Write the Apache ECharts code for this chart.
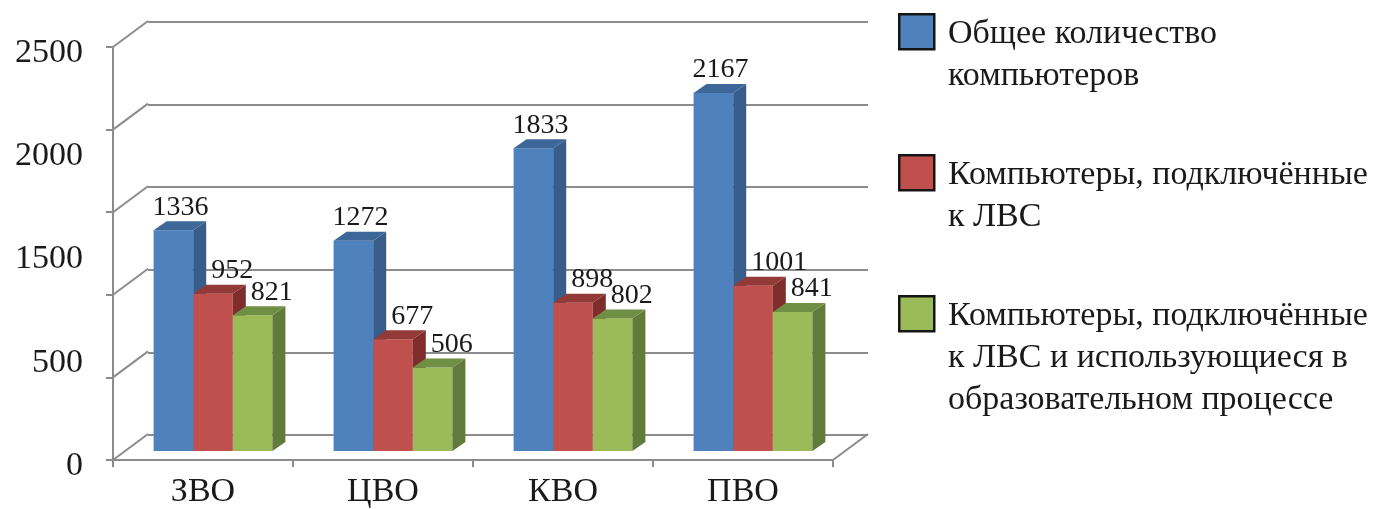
<!DOCTYPE html>
<html><head><meta charset="utf-8">
<script src="https://cdn.jsdelivr.net/npm/echarts@6/dist/echarts.min.js"></script>
<style>html,body{margin:0;padding:0;background:#fff}#c{width:1382px;height:509px}</style>
</head><body><div id="c"></div>
<script>
// ---- data ----
var categories = ['ЗВО', 'ЦВО', 'КВО', 'ПВО'];
var seriesNames = [
  'Общее количество\nкомпьютеров',
  'Компьютеры, подключённые\nк ЛВС',
  'Компьютеры, подключённые\nк ЛВС и использующиеся в\nобразовательном процессе'
];
var totalComputers = [1336, 1272, 1833, 2167];
var lanComputers = [952, 677, 898, 1001];
var eduComputers = [821, 506, 802, 841];
var yTickLabels = ['0', '500', '1500', '2000', '2500'];
var yMax = 2500;
var yStep = 500;

// ---- styles ----
var FONT = '"Liberation Serif", "Times New Roman", serif';
var faceColors = [
  { front: '#4F81BD', side: '#385D8A', top: '#3D6699' },
  { front: '#C0504D', side: '#7E2D2B', top: '#933A38' },
  { front: '#9BBB59', side: '#617B3A', top: '#6F8F44' }
];
var labelStyle = [
  { dx: 0.5, dxExtra: 7, align: 'center' },
  { dx: 0, dxExtra: 18, align: 'left' },
  { dx: 0, dxExtra: 18, align: 'left' }
];
var DX = 35, DY = -26;           // wall depth
var BAR_DX = 10, BAR_DY = -9;    // bar placement depth
var BAR_DEPTH_X = 13, BAR_DEPTH_Y = -9;
var BAR_FRAC = 0.22;
var GRID_COLOR = '#8C8C8C';

var allValues = [totalComputers, lanComputers, eduComputers];

var chart = echarts.init(document.getElementById('c'), null, { renderer: 'canvas' });

function makeBarRender(s) {
  return function (params, api) {
    var i = api.value(0), v = api.value(1);
    var base = api.coord([i, 0]);
    var topP = api.coord([i, v]);
    var band = api.size([1, 0])[0];
    var bw = band * BAR_FRAC;
    var x = base[0] - 1.5 * bw + s * bw + BAR_DX;
    var yb = base[1] + BAR_DY;
    var yt = topP[1] + BAR_DY;
    var c = faceColors[s];
    var ls = labelStyle[s];
    var lx = x + bw * ls.dx + ls.dxExtra;
    return {
      type: 'group',
      children: [
        { type: 'rect', shape: { x: x, y: yt, width: bw, height: yb - yt }, style: { fill: c.front } },
        { type: 'polygon', shape: { points: [[x + bw, yb], [x + bw + BAR_DEPTH_X, yb + BAR_DEPTH_Y], [x + bw + BAR_DEPTH_X, yt + BAR_DEPTH_Y], [x + bw, yt]] }, style: { fill: c.side } },
        { type: 'polygon', shape: { points: [[x, yt], [x + BAR_DEPTH_X, yt + BAR_DEPTH_Y], [x + bw + BAR_DEPTH_X, yt + BAR_DEPTH_Y], [x + bw, yt]] }, style: { fill: c.top } },
        { type: 'text', z2: 100, style: { text: String(v), x: lx, y: yt + BAR_DEPTH_Y, align: ls.align, verticalAlign: 'bottom', font: '28px ' + FONT, fill: '#1A1A1A' } }
      ]
    };
  };
}

var ticksData = [];
for (var t = 0; t <= yMax; t += yStep) ticksData.push([0, t]);

var series = [];
// side-wall diagonals
series.push({
  type: 'custom', xAxisIndex: 0, yAxisIndex: 0, clip: false, silent: true, z: 1,
  data: ticksData,
  renderItem: function (params, api) {
    var v = api.value(1);
    var y = api.coord([0, v])[1];
    var cs = params.coordSys;
    var ch = [{ type: 'line', shape: { x1: cs.x, y1: y, x2: cs.x + DX, y2: y + DY }, style: { stroke: GRID_COLOR, lineWidth: 2 } }];
    if (v === 0) {
      ch.push({ type: 'line', shape: { x1: cs.x + cs.width, y1: y, x2: cs.x + cs.width + DX, y2: y + DY }, style: { stroke: GRID_COLOR, lineWidth: 2 } });
    }
    return { type: 'group', children: ch };
  }
});
for (var s = 0; s < 3; s++) {
  series.push({
    type: 'custom', name: seriesNames[s], xAxisIndex: 0, yAxisIndex: 0, clip: false, z: 3,
    data: allValues[s].map(function (v, i) { return [i, v]; }),
    encode: { x: 0, y: 1 },
    renderItem: makeBarRender(s)
  });
}

var legendGraphics = [];
for (var k = 0; k < seriesNames.length; k++) {
  var itemTop = 13 + 141 * k;
  legendGraphics.push({ type: 'rect', left: 898, top: itemTop, shape: { width: 35, height: 35 }, style: { fill: faceColors[k].front, stroke: '#151515', lineWidth: 2.5 } });
  legendGraphics.push({ type: 'text', left: 948, top: itemTop, style: { text: seriesNames[k], font: '34px ' + FONT, lineHeight: 42, fill: '#1A1A1A' } });
}

var option = {
  backgroundColor: '#fff',
  animation: false,
  grid: [
    { left: 113, right: 549, top: 47, bottom: 48 },
    { left: 148, right: 514, top: 22, bottom: 74 }
  ],
  xAxis: [
    { type: 'category', gridIndex: 0, data: categories,
      axisLine: { show: true, lineStyle: { color: GRID_COLOR, width: 2 } },
      axisTick: { show: true, length: 7, lineStyle: { color: GRID_COLOR, width: 2 } },
      axisLabel: { fontFamily: FONT, fontSize: 34, color: '#1A1A1A', margin: 15 } },
    { type: 'category', gridIndex: 1, data: categories, show: false }
  ],
  yAxis: [
    { type: 'value', gridIndex: 0, min: 0, max: yMax, interval: yStep,
      axisLine: { show: true, lineStyle: { color: GRID_COLOR, width: 2 } },
      axisTick: { show: true, length: 7, lineStyle: { color: GRID_COLOR, width: 2 } },
      axisLabel: { show: false }, splitLine: { show: false } },
    { type: 'value', gridIndex: 0, position: 'left', min: 0, max: yMax, interval: yMax / (yTickLabels.length - 1),
      axisLine: { show: false }, axisTick: { show: false }, splitLine: { show: false },
      axisLabel: { color: '#1A1A1A', margin: 30,
        rich: { a: { fontFamily: FONT, fontSize: 34, color: '#1A1A1A', padding: [12, 0, 0, 0] } },
        formatter: function (v) { return '{a|' + yTickLabels[Math.round(v / (yMax / (yTickLabels.length - 1)))] + '}'; } } },
    { type: 'value', gridIndex: 1, min: 0, max: yMax, interval: yStep,
      axisLine: { show: false }, axisTick: { show: false }, axisLabel: { show: false },
      splitLine: { show: true, lineStyle: { color: GRID_COLOR, width: 2 } } }
  ],
  graphic: legendGraphics,
  series: series
};
chart.setOption(option);
</script>
</body></html>
